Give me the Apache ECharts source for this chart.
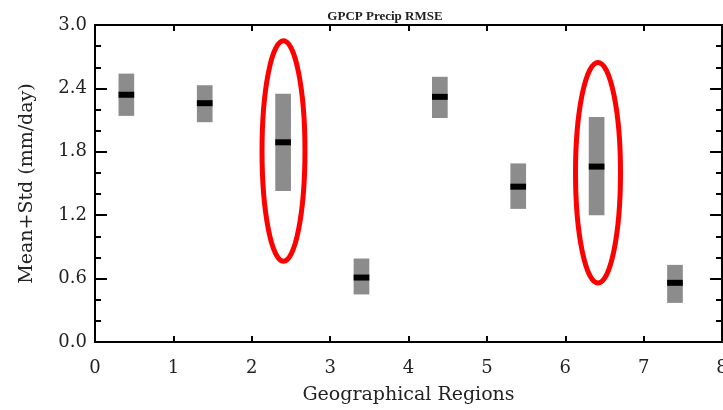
<!DOCTYPE html>
<html><head><meta charset="utf-8">
<script src="https://cdn.jsdelivr.net/npm/echarts@6/dist/echarts.min.js"></script>
<style>html,body{margin:0;padding:0;background:#fff}#c{width:723px;height:410px}</style>
</head><body><div id="c"></div>
<script>
// Data
const regionX = [0.4, 1.4, 2.4, 3.4, 4.4, 5.4, 6.4, 7.4];
const meanVals = [2.34, 2.26, 1.89, 0.61, 2.32, 1.47, 1.66, 0.56];
const lowVals  = [2.14, 2.08, 1.43, 0.45, 2.12, 1.26, 1.20, 0.37];
const highVals = [2.54, 2.43, 2.35, 0.79, 2.51, 1.69, 2.13, 0.73];
const ellipseX = [2.405, 6.418];
const ellipseLow = [0.765, 0.559];
const ellipseHigh = [2.85, 2.645];
const ellipseHalfWidth = [0.274, 0.287];
const xTicks = [0, 1, 2, 3, 4, 5, 6, 7, 8];
const yTicks = ['0.0', '0.6', '1.2', '1.8', '2.4', '3.0'];

const boxData = regionX.map((x, i) => [x, lowVals[i], highVals[i], meanVals[i]]);
const ellData = ellipseX.map((x, i) => [x, ellipseLow[i], ellipseHigh[i], ellipseHalfWidth[i]]);

const FONT = 'DejaVu Serif';
const chart = echarts.init(document.getElementById('c'), null, {renderer: 'canvas'});
const axisLine = {show: true, onZero: false, lineStyle: {color: '#000', width: 2}};
const tickStyle = {width: 2, color: '#000'};
chart.setOption({
  animation: false,
  title: {text: 'GPCP Precip RMSE', left: 380, top: 5, textAlign: 'center',
    textStyle: {fontFamily: 'Liberation Serif', fontSize: 13, fontWeight: 'bold', color: '#222'}},
  grid: {left: 95, right: 1, top: 25, bottom: 68, containLabel: false, outerBoundsMode: 'none'},
  xAxis: [{
    type: 'value', min: 0, max: 8, interval: 1, position: 'bottom',
    axisLine: axisLine, splitLine: {show: false},
    axisTick: {show: true, inside: true, length: 6, lineStyle: tickStyle},
    axisLabel: {margin: 17, fontFamily: FONT, fontSize: 18, color: '#222',
      formatter: v => String(xTicks[Math.round(v)])},
    name: 'Geographical Regions', nameLocation: 'middle', nameGap: 44,
    nameTextStyle: {fontFamily: FONT, fontSize: 19, color: '#222'}
  }, {
    type: 'value', min: 0, max: 8, interval: 1, position: 'top',
    axisLine: axisLine, splitLine: {show: false},
    axisTick: {show: true, inside: true, length: 6, lineStyle: tickStyle},
    axisLabel: {show: false}
  }],
  yAxis: [{
    type: 'value', min: 0, max: 3, interval: 0.6, position: 'left',
    axisLine: axisLine, splitLine: {show: false},
    axisTick: {show: true, inside: true, length: 12, lineStyle: tickStyle},
    minorTick: {show: true, splitNumber: 3, length: 6, lineStyle: tickStyle},
    minorSplitLine: {show: false},
    axisLabel: {margin: 8, fontFamily: FONT, fontSize: 18, color: '#222',
      formatter: v => yTicks[Math.round(v / 0.6)]},
    name: 'Mean+Std (mm/day)', nameLocation: 'middle', nameGap: 58,
    nameTextStyle: {fontFamily: FONT, fontSize: 19, color: '#222'}
  }, {
    type: 'value', min: 0, max: 3, interval: 0.6, position: 'right',
    axisLine: axisLine, splitLine: {show: false},
    axisTick: {show: true, inside: true, length: 12, lineStyle: tickStyle},
    minorTick: {show: true, splitNumber: 3, length: 6, lineStyle: tickStyle},
    axisLabel: {show: false}
  }],
  series: [{
    type: 'custom', xAxisIndex: 0, yAxisIndex: 0, data: boxData,
    renderItem: (params, api) => {
      const x = api.value(0);
      const lo = api.coord([x, api.value(1)]);
      const hi = api.coord([x, api.value(2)]);
      const m = api.coord([x, api.value(3)]);
      const w = api.size([0.2, 0])[0];
      return {type: 'group', children: [
        {type: 'rect', shape: {x: lo[0] - w / 2, y: hi[1], width: w, height: lo[1] - hi[1]},
          style: {fill: '#8c8c8c'}},
        {type: 'rect', shape: {x: m[0] - w / 2, y: m[1] - 3, width: w, height: 6},
          style: {fill: '#000'}}
      ]};
    }
  }, {
    type: 'custom', xAxisIndex: 0, yAxisIndex: 0, data: ellData, z: 5,
    renderItem: (params, api) => {
      const x = api.value(0);
      const lo = api.coord([x, api.value(1)]);
      const hi = api.coord([x, api.value(2)]);
      const rx = api.size([api.value(3), 0])[0];
      return {type: 'ellipse',
        shape: {cx: lo[0], cy: (lo[1] + hi[1]) / 2, rx: rx, ry: (lo[1] - hi[1]) / 2},
        style: {fill: null, stroke: '#ff0000', lineWidth: 5}};
    }
  }]
});
</script></body></html>
